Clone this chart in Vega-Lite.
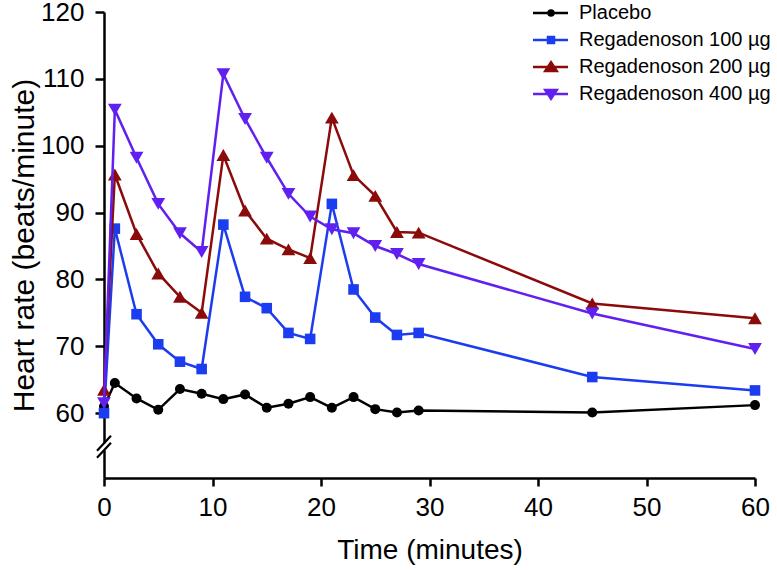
{
  "$schema": "https://vega.github.io/schema/vega-lite/v6.json",
  "width": 651,
  "height": 466,
  "autosize": "none",
  "padding": {"left": 104, "top": 12, "right": 22, "bottom": 92},
  "background": "white",
  "config": {
    "view": {"stroke": null},
    "font": "Liberation Sans",
    "axis": {
      "domainColor": "black", "domainWidth": 2.5, "tickColor": "black", "tickWidth": 2.5,
      "labelColor": "black", "titleColor": "black", "labelFont": "Liberation Sans", "titleFont": "Liberation Sans",
      "titleFontWeight": "normal", "grid": false, "labelFlush": false
    }
  },
  "datasets": {
    "hr": [
      {"time": 0, "hr": 61.0, "group": "Placebo"},
      {"time": 1, "hr": 64.5, "group": "Placebo"},
      {"time": 3, "hr": 62.2, "group": "Placebo"},
      {"time": 5, "hr": 60.5, "group": "Placebo"},
      {"time": 7, "hr": 63.6, "group": "Placebo"},
      {"time": 9, "hr": 62.9, "group": "Placebo"},
      {"time": 11, "hr": 62.1, "group": "Placebo"},
      {"time": 13, "hr": 62.8, "group": "Placebo"},
      {"time": 15, "hr": 60.8, "group": "Placebo"},
      {"time": 17, "hr": 61.4, "group": "Placebo"},
      {"time": 19, "hr": 62.4, "group": "Placebo"},
      {"time": 21, "hr": 60.8, "group": "Placebo"},
      {"time": 23, "hr": 62.4, "group": "Placebo"},
      {"time": 25, "hr": 60.6, "group": "Placebo"},
      {"time": 27, "hr": 60.1, "group": "Placebo"},
      {"time": 29, "hr": 60.4, "group": "Placebo"},
      {"time": 45, "hr": 60.1, "group": "Placebo"},
      {"time": 60, "hr": 61.2, "group": "Placebo"},
      {"time": 0, "hr": 60.0, "group": "Regadenoson 100 µg"},
      {"time": 1, "hr": 87.6, "group": "Regadenoson 100 µg"},
      {"time": 3, "hr": 74.8, "group": "Regadenoson 100 µg"},
      {"time": 5, "hr": 70.3, "group": "Regadenoson 100 µg"},
      {"time": 7, "hr": 67.7, "group": "Regadenoson 100 µg"},
      {"time": 9, "hr": 66.6, "group": "Regadenoson 100 µg"},
      {"time": 11, "hr": 88.2, "group": "Regadenoson 100 µg"},
      {"time": 13, "hr": 77.4, "group": "Regadenoson 100 µg"},
      {"time": 15, "hr": 75.7, "group": "Regadenoson 100 µg"},
      {"time": 17, "hr": 72.0, "group": "Regadenoson 100 µg"},
      {"time": 19, "hr": 71.1, "group": "Regadenoson 100 µg"},
      {"time": 21, "hr": 91.3, "group": "Regadenoson 100 µg"},
      {"time": 23, "hr": 78.5, "group": "Regadenoson 100 µg"},
      {"time": 25, "hr": 74.3, "group": "Regadenoson 100 µg"},
      {"time": 27, "hr": 71.7, "group": "Regadenoson 100 µg"},
      {"time": 29, "hr": 72.0, "group": "Regadenoson 100 µg"},
      {"time": 45, "hr": 65.4, "group": "Regadenoson 100 µg"},
      {"time": 60, "hr": 63.4, "group": "Regadenoson 100 µg"},
      {"time": 0, "hr": 63.5, "group": "Regadenoson 200 µg"},
      {"time": 1, "hr": 95.7, "group": "Regadenoson 200 µg"},
      {"time": 3, "hr": 86.8, "group": "Regadenoson 200 µg"},
      {"time": 5, "hr": 80.9, "group": "Regadenoson 200 µg"},
      {"time": 7, "hr": 77.4, "group": "Regadenoson 200 µg"},
      {"time": 9, "hr": 75.0, "group": "Regadenoson 200 µg"},
      {"time": 11, "hr": 98.6, "group": "Regadenoson 200 µg"},
      {"time": 13, "hr": 90.3, "group": "Regadenoson 200 µg"},
      {"time": 15, "hr": 86.1, "group": "Regadenoson 200 µg"},
      {"time": 17, "hr": 84.5, "group": "Regadenoson 200 µg"},
      {"time": 19, "hr": 83.2, "group": "Regadenoson 200 µg"},
      {"time": 21, "hr": 104.2, "group": "Regadenoson 200 µg"},
      {"time": 23, "hr": 95.6, "group": "Regadenoson 200 µg"},
      {"time": 25, "hr": 92.5, "group": "Regadenoson 200 µg"},
      {"time": 27, "hr": 87.1, "group": "Regadenoson 200 µg"},
      {"time": 29, "hr": 87.0, "group": "Regadenoson 200 µg"},
      {"time": 45, "hr": 76.4, "group": "Regadenoson 200 µg"},
      {"time": 60, "hr": 74.2, "group": "Regadenoson 200 µg"},
      {"time": 0, "hr": 61.5, "group": "Regadenoson 400 µg"},
      {"time": 1, "hr": 105.4, "group": "Regadenoson 400 µg"},
      {"time": 3, "hr": 98.2, "group": "Regadenoson 400 µg"},
      {"time": 5, "hr": 91.3, "group": "Regadenoson 400 µg"},
      {"time": 7, "hr": 86.9, "group": "Regadenoson 400 µg"},
      {"time": 9, "hr": 84.1, "group": "Regadenoson 400 µg"},
      {"time": 11, "hr": 110.7, "group": "Regadenoson 400 µg"},
      {"time": 13, "hr": 104.0, "group": "Regadenoson 400 µg"},
      {"time": 15, "hr": 98.2, "group": "Regadenoson 400 µg"},
      {"time": 17, "hr": 92.8, "group": "Regadenoson 400 µg"},
      {"time": 19, "hr": 89.4, "group": "Regadenoson 400 µg"},
      {"time": 21, "hr": 87.5, "group": "Regadenoson 400 µg"},
      {"time": 23, "hr": 86.9, "group": "Regadenoson 400 µg"},
      {"time": 25, "hr": 85.0, "group": "Regadenoson 400 µg"},
      {"time": 27, "hr": 83.8, "group": "Regadenoson 400 µg"},
      {"time": 29, "hr": 82.3, "group": "Regadenoson 400 µg"},
      {"time": 45, "hr": 74.9, "group": "Regadenoson 400 µg"},
      {"time": 60, "hr": 69.6, "group": "Regadenoson 400 µg"}
    ],
    "gap": [
      {"time": 0, "hr": 54.44, "hr2": 55.49}
    ],
    "slashes": [
      {"time": -0.645, "hr": 54.36, "time2": 0.645, "hr2": 56.61},
      {"time": -0.645, "hr": 53.32, "time2": 0.645, "hr2": 55.56}
    ]
  },
  "encoding": {
    "x": {
      "field": "time", "type": "quantitative",
      "scale": {"domain": [0, 60], "nice": false, "zero": false},
      "axis": {
        "title": "Time (minutes)", "values": [0, 10, 20, 30, 40, 50, 60],
        "tickSize": 8, "labelPadding": 8, "labelFontSize": 26,
        "titleFontSize": 28, "titlePadding": 16
      }
    },
    "y": {
      "field": "hr", "type": "quantitative",
      "scale": {"domain": [50.3, 120], "nice": false, "zero": false},
      "axis": {
        "title": "Heart rate (beats/minute)", "values": [60, 70, 80, 90, 100, 110, 120],
        "tickSize": 9, "labelPadding": 11, "labelFontSize": 26,
        "titleFontSize": 30, "titlePadding": 1
      }
    }
  },
  "layer": [
    {
      "data": {"name": "gap"},
      "mark": {"type": "rule", "color": "white", "strokeWidth": 5},
      "encoding": {"y2": {"field": "hr2"}}
    },
    {
      "data": {"name": "slashes"},
      "mark": {"type": "rule", "color": "black", "strokeWidth": 2.2},
      "encoding": {"x2": {"field": "time2"}, "y2": {"field": "hr2"}}
    },
    {
      "data": {"name": "hr"},
      "transform": [{"filter": "datum.group === 'Placebo'"}],
      "mark": {"type": "line", "strokeWidth": 2.5, "color": "#000000",
               "point": {"shape": "circle", "filled": true, "opacity": 1, "color": "#000000", "size": 100}}
    },
    {
      "data": {"name": "hr"},
      "transform": [{"filter": "datum.group === 'Regadenoson 100 µg'"}],
      "mark": {"type": "line", "strokeWidth": 2.5, "color": "#1c3cef",
               "point": {"shape": "square", "filled": true, "opacity": 1, "color": "#1c3cef", "size": 112}}
    },
    {
      "data": {"name": "hr"},
      "transform": [{"filter": "datum.group === 'Regadenoson 200 µg'"}],
      "mark": {"type": "line", "strokeWidth": 2.5, "color": "#8b0a0a",
               "point": {"shape": "triangle-up", "filled": true, "opacity": 1, "color": "#8b0a0a", "size": 190}}
    },
    {
      "data": {"name": "hr"},
      "transform": [{"filter": "datum.group === 'Regadenoson 400 µg'"}],
      "mark": {"type": "line", "strokeWidth": 2.5, "color": "#6020f0",
               "point": {"shape": "triangle-down", "filled": true, "opacity": 1, "color": "#6020f0", "size": 190}}
    },
    {
      "data": {"name": "hr"},
      "mark": {"type": "point", "filled": true, "opacity": 0, "size": 100},
      "encoding": {
        "color": {
          "field": "group", "type": "nominal",
          "scale": {
            "domain": ["Placebo", "Regadenoson 100 µg", "Regadenoson 200 µg", "Regadenoson 400 µg"],
            "range": ["#000000", "#1c3cef", "#8b0a0a", "#6020f0"]
          },
          "legend": {
            "title": null, "orient": "none", "legendX": 437, "legendY": -9,
            "symbolSize": 100, "symbolStrokeWidth": 2.5, "symbolOpacity": 1,
            "labelFontSize": 20, "labelColor": "black", "labelFont": "Liberation Sans",
            "labelOffset": 18, "rowPadding": 7, "padding": 0, "labelLimit": 400,
            "encode": {"symbols": {"update": {"stroke": {"scale": "color", "field": "value"}, "opacity": {"value": 1}, "strokeWidth": {"value": 2.5}}}}
          }
        },
        "shape": {
          "field": "group", "type": "nominal",
          "scale": {
            "domain": ["Placebo", "Regadenoson 100 µg", "Regadenoson 200 µg", "Regadenoson 400 µg"],
            "range": [
              "M-3.6,0H3.4M-0.5,0A0.5,0.5,0,1,1,0.5,0A0.5,0.5,0,1,1,-0.5,0Z",
              "M-3.6,0H3.4M-0.6,-0.6H0.6V0.6H-0.6Z",
              "M-3.6,0H3.4M0,-0.95L1.15,0.8L-1.15,0.8Z",
              "M-3.6,0H3.4M0,0.95L1.15,-0.8L-1.15,-0.8Z"
            ]
          },
          "legend": {
            "title": null, "orient": "none", "legendX": 437, "legendY": -9,
            "symbolSize": 100, "symbolStrokeWidth": 2.5, "symbolOpacity": 1,
            "labelFontSize": 20, "labelColor": "black", "labelFont": "Liberation Sans",
            "labelOffset": 18, "rowPadding": 7, "padding": 0, "labelLimit": 400
          }
        }
      }
    }
  ]
}
